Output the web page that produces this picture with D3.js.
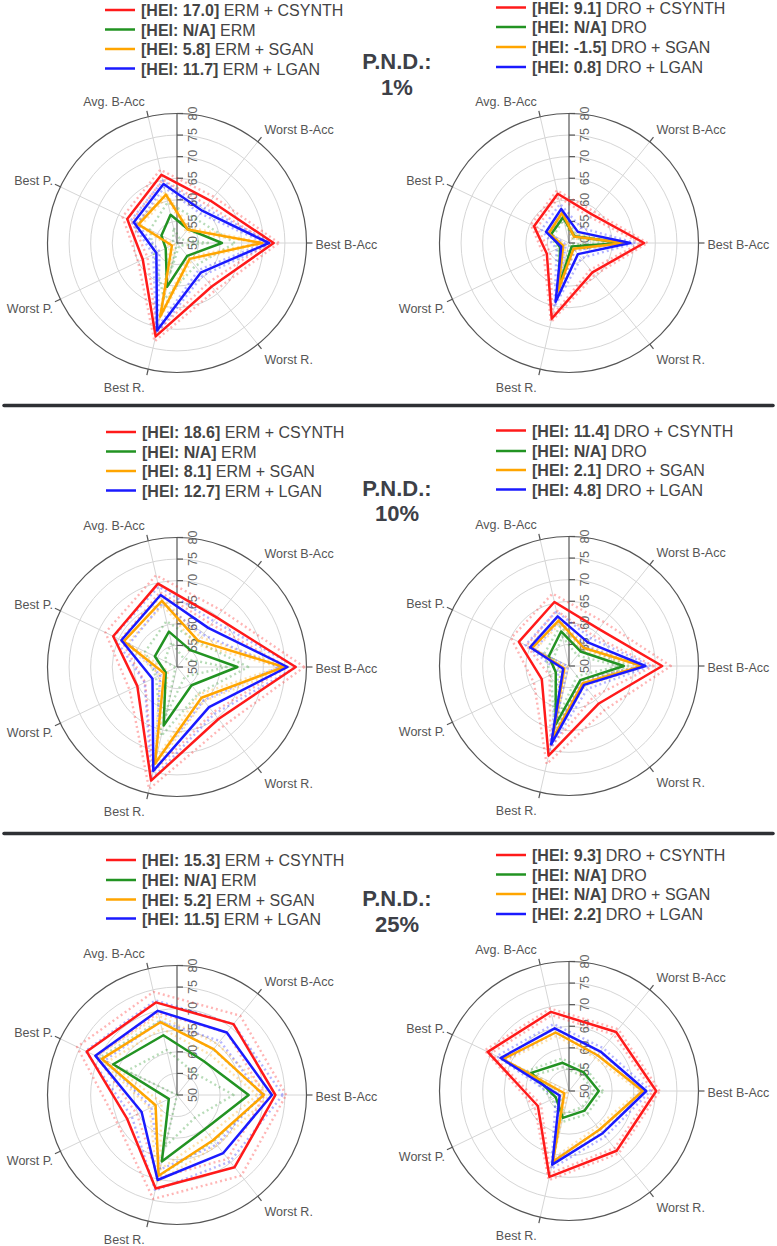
<!DOCTYPE html>
<html>
<head>
<meta charset="utf-8">
<script src="https://cdn.jsdelivr.net/npm/d3@7"></script>
<style>
  html, body { margin: 0; padding: 0; background: #fff; }
  svg { display: block; }
</style>
</head>
<body>
<svg id="chart" width="777" height="1246"></svg>
<script>
// ---------------- DATA ----------------
const categories = ["Best B-Acc", "Worst B-Acc", "Avg. B-Acc", "Best P.", "Worst P.", "Best R.", "Worst R."];
const radialTicks = [50, 55, 60, 65, 70, 75, 80];
const methodSuffix = [" + CSYNTH", "", " + SGAN", " + LGAN"];
const pndLabels = ["1%", "10%", "25%"];

// P.N.D. 1%
const erm1_csynth = [72.4, 62.5, 66.2, 62.8, 58.8, 72.2, 62.9];
const erm1_base   = [60.4, 54.1, 56.7, 54.0, 52.9, 60.4, 53.8];
const erm1_sgan   = [69.7, 54.0, 61.5, 59.9, 51.3, 67.5, 54.7];
const erm1_lgan   = [71.3, 59.5, 64.0, 61.1, 55.3, 70.8, 58.8];
const erm1_std    = [1.2, 3.0, 0.6, 0.8];
const erm1_hei    = ["17.0", "N/A", "5.8", "11.7"];

const dro1_csynth = [67.4, 58.5, 61.7, 59.0, 55.7, 68.0, 58.7];
const dro1_base   = [62.3, 52.0, 56.1, 54.6, 52.3, 60.2, 51.0];
const dro1_sgan   = [63.0, 51.9, 57.2, 55.2, 51.5, 61.3, 51.7];
const dro1_lgan   = [64.2, 53.3, 58.1, 55.9, 52.0, 64.0, 53.3];
const dro1_std    = [0.8, 0.6, 0.6, 1.2];
const dro1_hei    = ["9.1", "N/A", "-1.5", "0.8"];

// P.N.D. 10%
const erm10_csynth = [77.5, 64.7, 69.8, 66.4, 60.2, 77.0, 65.4];
const erm10_base   = [64.0, 55.0, 58.4, 55.7, 52.9, 63.9, 55.4];
const erm10_sgan   = [74.8, 57.8, 65.7, 63.7, 53.3, 73.0, 59.1];
const erm10_lgan   = [75.6, 61.6, 67.1, 64.3, 56.3, 74.7, 61.9];
const erm10_std    = [2.0, 2.5, 1.0, 2.0];
const erm10_hei    = ["18.6", "N/A", "8.1", "12.7"];

const dro10_csynth = [71.6, 61.0, 65.2, 62.9, 57.0, 71.3, 61.1];
const dro10_base   = [62.7, 54.3, 58.2, 55.2, 53.4, 63.9, 54.2];
const dro10_sgan   = [67.0, 55.4, 60.8, 59.5, 51.2, 67.4, 55.1];
const dro10_lgan   = [67.7, 57.0, 61.8, 60.0, 51.5, 68.6, 55.6];
const dro10_std    = [2.0, 1.2, 0.8, 1.2];
const dro10_hei    = ["11.4", "N/A", "2.1", "4.8"];

// P.N.D. 25%
const erm25_csynth = [72.8, 71.0, 72.0, 73.2, 62.8, 72.2, 71.4];
const erm25_base   = [66.6, 60.0, 64.2, 66.4, 52.1, 65.8, 60.2];
const erm25_sgan   = [70.1, 63.6, 67.3, 69.3, 55.5, 69.2, 63.4];
const erm25_lgan   = [72.0, 68.5, 70.0, 71.0, 59.1, 70.2, 67.2];
const erm25_std    = [2.5, 3.5, 1.5, 2.5];
const erm25_hei    = ["15.3", "N/A", "5.2", "11.5"];

const dro25_csynth = [70.2, 67.5, 68.8, 70.9, 58.0, 70.4, 67.7];
const dro25_base   = [56.9, 55.5, 56.7, 59.7, 53.4, 56.4, 55.8];
const dro25_sgan   = [67.1, 60.6, 63.9, 67.0, 51.2, 66.8, 61.4];
const dro25_lgan   = [67.9, 61.7, 64.9, 67.6, 52.4, 67.5, 62.5];
const dro25_std    = [0.8, 1.0, 0.8, 1.0];
const dro25_hei    = ["9.3", "N/A", "N/A", "2.2"];

// ---------------- LAYOUT / STYLE ----------------
const colors = ["#ff1a1a", "#229322", "#ffa500", "#1a1aff"];
const R = 129.5;
const FONT = "'Liberation Sans', Arial, sans-serif";

const panels = [
  { model: "ERM", series: [erm1_csynth, erm1_base, erm1_sgan, erm1_lgan], std: erm1_std, hei: erm1_hei,
    cx: 177, cy: 243, lx: 105, ly: [10, 29.5, 49, 68.5] },
  { model: "DRO", series: [dro1_csynth, dro1_base, dro1_sgan, dro1_lgan], std: dro1_std, hei: dro1_hei,
    cx: 569, cy: 243, lx: 496, ly: [7.5, 27, 47, 67] },
  { model: "ERM", series: [erm10_csynth, erm10_base, erm10_sgan, erm10_lgan], std: erm10_std, hei: erm10_hei,
    cx: 177, cy: 667, lx: 106, ly: [432, 451.5, 471, 490.5] },
  { model: "DRO", series: [dro10_csynth, dro10_base, dro10_sgan, dro10_lgan], std: dro10_std, hei: dro10_hei,
    cx: 569, cy: 666, lx: 496, ly: [430.5, 451, 470, 489.5] },
  { model: "ERM", series: [erm25_csynth, erm25_base, erm25_sgan, erm25_lgan], std: erm25_std, hei: erm25_hei,
    cx: 177, cy: 1095, lx: 106, ly: [860, 880, 899.5, 918.5] },
  { model: "DRO", series: [dro25_csynth, dro25_base, dro25_sgan, dro25_lgan], std: dro25_std, hei: dro25_hei,
    cx: 569, cy: 1091, lx: 496, ly: [855, 874.5, 894, 914] }
];
const pndPos = [{ y1: 61, y2: 87 }, { y1: 488, y2: 513 }, { y1: 898, y2: 924 }];
const separators = [405.5, 833.5];

const svg = d3.select("#chart");
svg.append("rect").attr("width", 777).attr("height", 1246).attr("fill", "#fff");

const rScale = d3.scaleLinear().domain([50, 80]).range([0, R]);
const angleScale = d3.scaleBand().domain(categories).range([0, 2 * Math.PI]).paddingInner(0).paddingOuter(0).align(0);
// angle measured counter-clockwise from the right (east)
const theta = c => angleScale(c);

const radialLine = d3.lineRadial()
  .angle((d, i) => Math.PI / 2 - theta(categories[i]))
  .radius(d => rScale(d))
  .curve(d3.curveLinearClosed);

panels.forEach(p => {
  const g = svg.append("g").attr("transform", `translate(${p.cx},${p.cy})`);

  // radial grid circles
  g.selectAll("circle.grid").data(radialTicks.filter(t => t > 50 && t < 80)).join("circle")
    .attr("r", d => rScale(d)).attr("fill", "none").attr("stroke", "#d6d6d6").attr("stroke-width", 1);

  // angular grid lines
  categories.forEach(c => {
    const a = theta(c);
    g.append("line")
      .attr("x1", 0).attr("y1", 0)
      .attr("x2", R * Math.cos(a)).attr("y2", -R * Math.sin(a))
      .attr("stroke", "#d6d6d6").attr("stroke-width", 1);
  });

  // outer circle
  g.append("circle").attr("r", R).attr("fill", "none").attr("stroke", "#555").attr("stroke-width", 1.2);

  // angular ticks & labels
  categories.forEach(c => {
    const a = theta(c);
    const cs = Math.cos(a), sn = Math.sin(a);
    g.append("line")
      .attr("x1", R * cs).attr("y1", -R * sn)
      .attr("x2", (R + 6) * cs).attr("y2", -(R + 6) * sn)
      .attr("stroke", "#555").attr("stroke-width", 1.2);
    const tx = (R + 6) * cs, ty = -(R + 6) * sn;
    let anchor = "middle", dx = 0;
    if (cs > 0.05) { anchor = "start"; dx = 3; }
    else if (cs < -0.05) { anchor = "end"; dx = -2; }
    g.append("text")
      .attr("x", tx + dx).attr("y", ty - sn * 11 + 2)
      .attr("text-anchor", anchor).attr("dominant-baseline", "central")
      .attr("font-family", FONT).attr("font-size", 12.5).attr("fill", "#555")
      .text(c);
  });

  // radial axis line + ticks + labels
  g.append("line").attr("x1", 0).attr("y1", 0).attr("x2", 0).attr("y2", -R)
    .attr("stroke", "#555").attr("stroke-width", 1.2);
  radialTicks.forEach(t => {
    const y = -rScale(t);
    g.append("line").attr("x1", 0).attr("x2", 6).attr("y1", y).attr("y2", y)
      .attr("stroke", "#555").attr("stroke-width", 1.2);
    g.append("text")
      .attr("transform", `translate(16,${y}) rotate(-90)`)
      .attr("text-anchor", "middle").attr("dominant-baseline", "central")
      .attr("font-family", FONT).attr("font-size", 12.5).attr("fill", "#666")
      .text(t);
  });

  // series: bands (dotted) then mean lines
  p.series.forEach((vals, si) => {
    const s = p.std[si];
    [vals.map(v => v + s), vals.map(v => Math.max(50, v - s))].forEach(b => {
      g.append("path").datum(b)
        .attr("d", radialLine)
        .attr("fill", "none")
        .attr("stroke", colors[si]).attr("stroke-opacity", 0.32)
        .attr("stroke-width", 2.4)
        .attr("stroke-dasharray", "2,3")
        .attr("stroke-linejoin", "round");
    });
  });
  p.series.forEach((vals, si) => {
    g.append("path").datum(vals)
      .attr("d", radialLine)
      .attr("fill", "none")
      .attr("stroke", colors[si]).attr("stroke-width", 2.5)
      .attr("stroke-linejoin", "round");
  });

  // legend
  p.series.forEach((vals, si) => {
    const y = p.ly[si];
    svg.append("line").attr("x1", p.lx).attr("x2", p.lx + 30).attr("y1", y).attr("y2", y)
      .attr("stroke", colors[si]).attr("stroke-width", 2.5);
    const t = svg.append("text").attr("x", p.lx + 36).attr("y", y)
      .attr("dominant-baseline", "central")
      .attr("font-family", FONT).attr("font-size", 16).attr("fill", "#444");
    t.append("tspan").attr("font-weight", "bold").text(`[HEI: ${p.hei[si]}]`);
    t.append("tspan").text(` ${p.model}${methodSuffix[si]}`);
  });
});

// P.N.D. labels
pndLabels.forEach((lab, i) => {
  svg.append("text").attr("x", 397).attr("y", pndPos[i].y1)
    .attr("text-anchor", "middle").attr("dominant-baseline", "central")
    .attr("font-family", FONT).attr("font-size", 22).attr("font-weight", "bold").attr("fill", "#3d4047")
    .text("P.N.D.:");
  svg.append("text").attr("x", 397).attr("y", pndPos[i].y2)
    .attr("text-anchor", "middle").attr("dominant-baseline", "central")
    .attr("font-family", FONT).attr("font-size", 22).attr("font-weight", "bold").attr("fill", "#3d4047")
    .text(lab);
});

// separators
separators.forEach(y => {
  svg.append("line").attr("x1", 4).attr("x2", 773).attr("y1", y).attr("y2", y)
    .attr("stroke", "#2e3034").attr("stroke-width", 3.5).attr("stroke-linecap", "round");
});
</script>
</body>
</html>
